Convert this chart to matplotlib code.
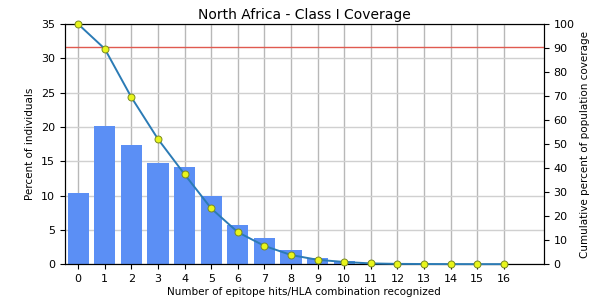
import matplotlib
matplotlib.use('Agg')
import matplotlib.pyplot as plt
import numpy as np

hits = list(range(17))
percent_individuals = [10.3, 20.2, 17.4, 14.7, 14.2, 9.9, 5.7, 3.8, 2.0, 0.9, 0.4,
                       0.15, 0.05, 0.02, 0.01, 0.0, 0.0]
cumulative_coverage = [100.0, 89.7, 69.5, 52.1, 37.4, 23.2, 13.3, 7.6, 3.8, 1.8, 0.9,
                       0.3, 0.1, 0.05, 0.02, 0.0, 0.0]
coverage_line = 90.3

fig = plt.figure(figsize=(5.95, 3.05), dpi=100)
ax = fig.add_axes([0.109, 0.134, 0.805, 0.787])

ax.bar(hits, percent_individuals, width=0.8, color='#5b8ff5', zorder=2)
ax.set_xlim(-0.5, 17.5)
ax.set_ylim(0, 35)
ax.set_xticks(hits)
ax.set_yticks(np.arange(0, 36, 5))
ax.grid(True, axis='x', color='#b8b8b8', linewidth=1.0, zorder=0)
ax.grid(True, axis='y', color='#d0d0d0', linewidth=1.0, zorder=0)
ax.set_axisbelow(True)
ax.tick_params(labelsize=8)
ax.set_xlabel('Number of epitope hits/HLA combination recognized', fontsize=7.5, labelpad=2)
ax.set_ylabel('Percent of individuals', fontsize=7.5, labelpad=4)
ax.set_title('North Africa - Class I Coverage', fontsize=10, pad=4)

ax2 = ax.twinx()
ax2.set_ylim(0, 100)
ax2.set_yticks(np.arange(0, 101, 10))
ax2.tick_params(labelsize=8)
ax2.axhline(coverage_line, color='#e05a50', linewidth=1.0)
ax2.plot(hits, cumulative_coverage, color='#2b7bb5', linewidth=1.4,
         marker='o', markersize=5, markerfacecolor='#e8f51a', markeredgecolor='#7a8a20',
         markeredgewidth=0.7, clip_on=False, zorder=3)
ax2.set_ylabel('Cumulative percent of population coverage', fontsize=7.5, labelpad=4)

plt.savefig('out.png', dpi=100)
